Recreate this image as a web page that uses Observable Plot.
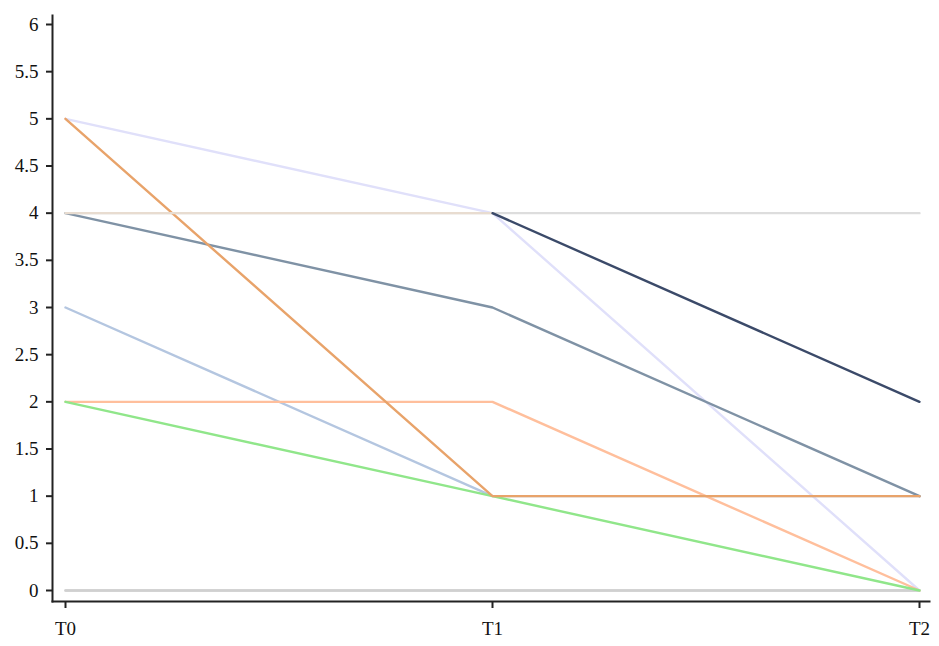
<!DOCTYPE html>
<html>
<head>
<meta charset="utf-8">
<script src="https://cdn.jsdelivr.net/npm/d3@7"></script>
<script src="https://cdn.jsdelivr.net/npm/@observablehq/plot@0.6"></script>
<style>
  html, body { margin: 0; padding: 0; background: #fff; }
  #chart svg { display: block; }
</style>
</head>
<body>
<div id="chart"></div>
<script>
// Categories along x
const times = ["T0", "T1", "T2"];
// Y tick values
const yTicks = [0, 0.5, 1, 1.5, 2, 2.5, 3, 3.5, 4, 4.5, 5, 5.5, 6];

// Series (drawn in this order, bottom to top)
const seriesNames = ["grayZero", "grayZeroB", "grayFour", "lavender", "lightBlue", "peach", "green", "slate", "orange", "beige", "navy"];
const seriesColors = ["#d4d4d4", "#d0d0d0", "#dddddd", "#e0e0fa", "#b4c6e0", "#ffbf9c", "#90e68a", "#7f92a5", "#e8a36a", "#e8dcd0", "#3b4a69"];
const grayZero  = [0, 0, 0];
const grayZeroB = [0, 0, 0];
const grayFour  = [4, 4, 4];
const lavender  = [5, 4, 0];
const lightBlue = [3, 1, 1];
const peach     = [2, 2, 0];
const green     = [2, 1, 0];
const slate     = [4, 3, 1];
const orange    = [5, 1, 1];
const beige     = [4, 4, null];
const navy      = [null, 4, 2];

const seriesValues = [grayZero, grayZeroB, grayFour, lavender, lightBlue, peach, green, slate, orange, beige, navy];

const rows = [];
seriesNames.forEach((name, i) => {
  times.forEach((t, j) => {
    rows.push({series: name, time: t, value: seriesValues[i][j]});
  });
});

const chart = Plot.plot({
  width: 939,
  height: 646,
  marginLeft: 52,
  marginRight: 10,
  marginTop: 15,
  marginBottom: 45,
  style: {fontFamily: "Liberation Serif, serif", fontSize: "19px", color: "#111", background: "#fff"},
  x: {type: "point", domain: times, range: [64, 919], padding: 0, label: null},
  y: {domain: [0, 6], range: [590, 24], label: null},
  color: {domain: seriesNames, range: seriesColors},
  marks: [
    Plot.line(rows, {x: "time", y: "value", z: "series", stroke: "series", strokeWidth: 2.4, strokeLinejoin: "miter"}),
    Plot.frame({anchor: "left", stroke: "#222", strokeWidth: 2}),
    Plot.frame({anchor: "bottom", stroke: "#222", strokeWidth: 2}),
    Plot.axisY({ticks: yTicks, tickFormat: d => String(d), tickSize: 6, tickPadding: 8, stroke: "#222", strokeWidth: 2, label: null, fill: "#111"}),
    Plot.axisX({tickSize: 7, tickPadding: 13, stroke: "#222", strokeWidth: 2, label: null, fill: "#111"})
  ]
});

document.getElementById("chart").appendChild(chart);
</script>
</body>
</html>
